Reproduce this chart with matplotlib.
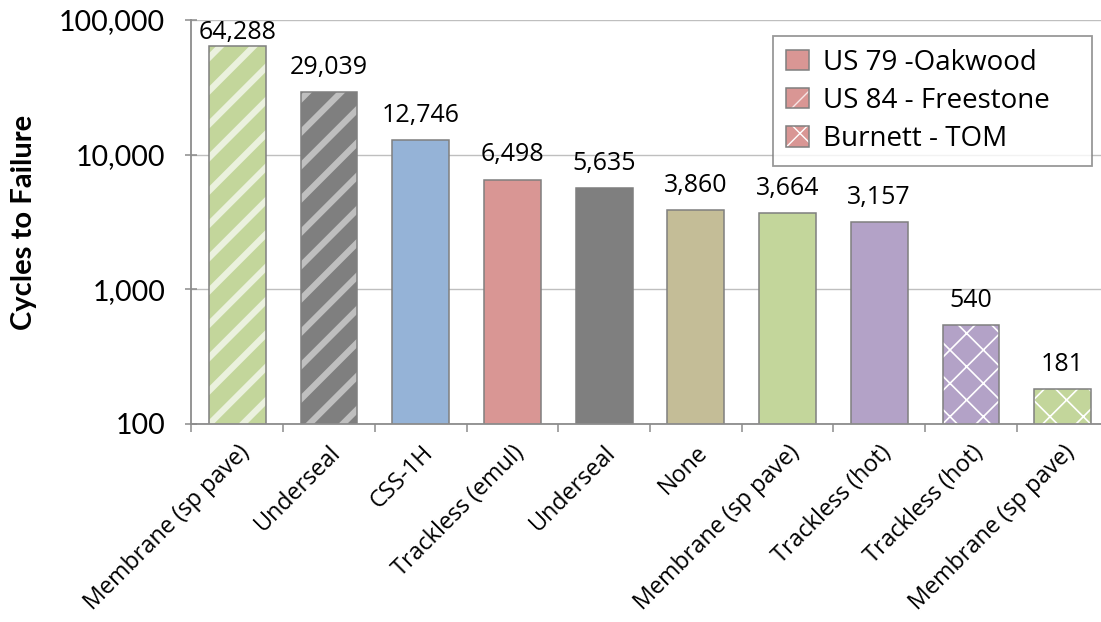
import matplotlib
matplotlib.use("Agg")
import matplotlib.pyplot as plt
from matplotlib.patches import Patch
from matplotlib.legend_handler import HandlerTuple
from matplotlib.ticker import FuncFormatter, FixedLocator, NullLocator
import numpy as np

# data
categories = ["Membrane (sp pave)", "Underseal", "CSS-1H", "Trackless (emul)", "Underseal",
              "None", "Membrane (sp pave)", "Trackless (hot)", "Trackless (hot)", "Membrane (sp pave)"]
cycles = [64288, 29039, 12746, 6498, 5635, 3860, 3664, 3157, 540, 181]
sites = ["US 84 - Freestone", "US 84 - Freestone", "US 79 -Oakwood", "US 79 -Oakwood",
         "US 79 -Oakwood", "US 79 -Oakwood", "US 79 -Oakwood", "US 79 -Oakwood",
         "Burnett - TOM", "Burnett - TOM"]
bar_colors = ["#C3D69B", "#7F7F7F", "#95B3D7", "#D99694", "#7F7F7F",
              "#C4BD97", "#C3D69B", "#B3A2C7", "#B3A2C7", "#C3D69B"]
hatch_colors = ["#EBF1DE", "#BFBFBF", None, None, None, None, None, None, "white", "white"]
site_order = ["US 79 -Oakwood", "US 84 - Freestone", "Burnett - TOM"]

site_hatch = {"US 79 -Oakwood": "", "US 84 - Freestone": "/", "Burnett - TOM": "x"}
site_hatch_lw = {"US 79 -Oakwood": 1.0, "US 84 - Freestone": 4.5, "Burnett - TOM": 1.2}
EDGE = "#7F7F7F"
LABEL_FONT = "Open Sans"
TICK_FONT = "Lato"

fig = plt.figure(figsize=(11.01, 6.22), dpi=100)
W, H = 1101, 622
left, right, top, bottom = 191.5, 1108.5, 20, 424
ax = fig.add_axes([left / W, 1 - bottom / H, (right - left) / W, (bottom - top) / H])
ax.set_yscale("log")
ax.set_ylim(100, 100000)
ax.set_xlim(-0.5, len(categories) - 0.5)

x = np.arange(len(categories))
width = 0.62


def make_hatched(p, hatch, hcolor, hlw):
    p.set_hatch(hatch)
    p.set_edgecolor(hcolor)
    p.set_linewidth(0)
    if hasattr(p, "set_hatch_linewidth"):
        p.set_hatch_linewidth(hlw)


for i in range(len(categories)):
    s = sites[i]
    with plt.rc_context({"hatch.linewidth": site_hatch_lw[s]}):
        b = ax.bar(x[i], cycles[i], width=width, color=bar_colors[i], linewidth=0, zorder=2)
        if site_hatch[s]:
            make_hatched(b[0], site_hatch[s], hatch_colors[i], site_hatch_lw[s])
    ax.bar(x[i], cycles[i], width=width, fill=False, edgecolor=EDGE, linewidth=1.1, zorder=3)

# grid / spines
ax.yaxis.grid(True, color="#BFBFBF", linewidth=1.0, zorder=0)
ax.set_axisbelow(True)
for sp in ["top", "right"]:
    ax.spines[sp].set_visible(False)
for sp in ["left", "bottom"]:
    ax.spines[sp].set_color("#8C8C8C")
    ax.spines[sp].set_linewidth(1.3)
    ax.spines[sp].set_zorder(4)

ax.yaxis.set_major_locator(FixedLocator([100, 1000, 10000, 100000]))
ax.yaxis.set_minor_locator(NullLocator())
ax.yaxis.set_major_formatter(FuncFormatter(lambda v, pos: f"{int(round(v)):,}"))
ax.tick_params(axis="y", which="major", direction="inout", length=8, width=1.1, color="#8C8C8C",
               pad=15, labelsize=20.5, labelcolor="black")
for t in ax.get_yticklabels():
    t.set_fontfamily(TICK_FONT)

ax.set_xticks(x)
ax.set_xticks(np.arange(-0.5, len(categories)), minor=True)
ax.tick_params(axis="x", which="major", length=0, pad=12)
ax.tick_params(axis="x", which="minor", direction="out", length=6, width=1.1, color="#8C8C8C")
ax.set_xticklabels(categories, rotation=45, ha="right", rotation_mode="anchor",
                   fontsize=16.8, family=LABEL_FONT)

ax.set_ylabel("Cycles to Failure", fontsize=21, fontweight="bold", family=TICK_FONT, labelpad=14)
ax.yaxis.set_label_coords(-0.168, 0.5)

# data labels
anns = []
for i, v in enumerate(cycles):
    a = ax.annotate(f"{v:,}", xy=(x[i], v), xytext=(0, 9), textcoords="offset points",
                    ha="center", va="bottom", fontsize=18, family=LABEL_FONT, zorder=5)
    anns.append(a)

# keep labels inside the plot area, as the original does
fig.canvas.draw()
rend = fig.canvas.get_renderer()
ax_top = ax.get_window_extent().y1
for a in anns:
    ext = a.get_window_extent(rend)
    if ext.y1 > ax_top:
        shift = (ext.y1 - ax_top) * 72 / fig.dpi
        a.xyann = (0, 9 - shift)

# legend
legend_hatch_colors = {"US 84 - Freestone": "#F7E6E6", "Burnett - TOM": "white"}
handles = []
for s in site_order:
    base = Patch(facecolor="#D99694", linewidth=0)
    if site_hatch[s]:
        lw = 3.5 if s == "US 84 - Freestone" else 1.2
        with plt.rc_context({"hatch.linewidth": lw}):
            make_hatched(base, site_hatch[s], legend_hatch_colors[s], lw)
    outline = Patch(fill=False, edgecolor=EDGE, linewidth=1.1)
    handles.append((base, outline))
leg = ax.legend(handles, site_order, handler_map={tuple: HandlerTuple(ndivide=1, pad=0)},
                loc="upper left", mode="expand",
                bbox_to_anchor=(773 / W, 1 - 166 / H, 319 / W, 130 / H), bbox_transform=fig.transFigure,
                borderaxespad=0, frameon=True, fancybox=False, handlelength=0.85, handleheight=0.75,
                handletextpad=0.5, labelspacing=0.37, borderpad=0.45,
                prop={"family": LABEL_FONT, "size": 20})
leg.get_frame().set_edgecolor("#7F7F7F")
leg.get_frame().set_linewidth(1.3)
leg.set_zorder(6)

fig.savefig("out.png", dpi=100)
